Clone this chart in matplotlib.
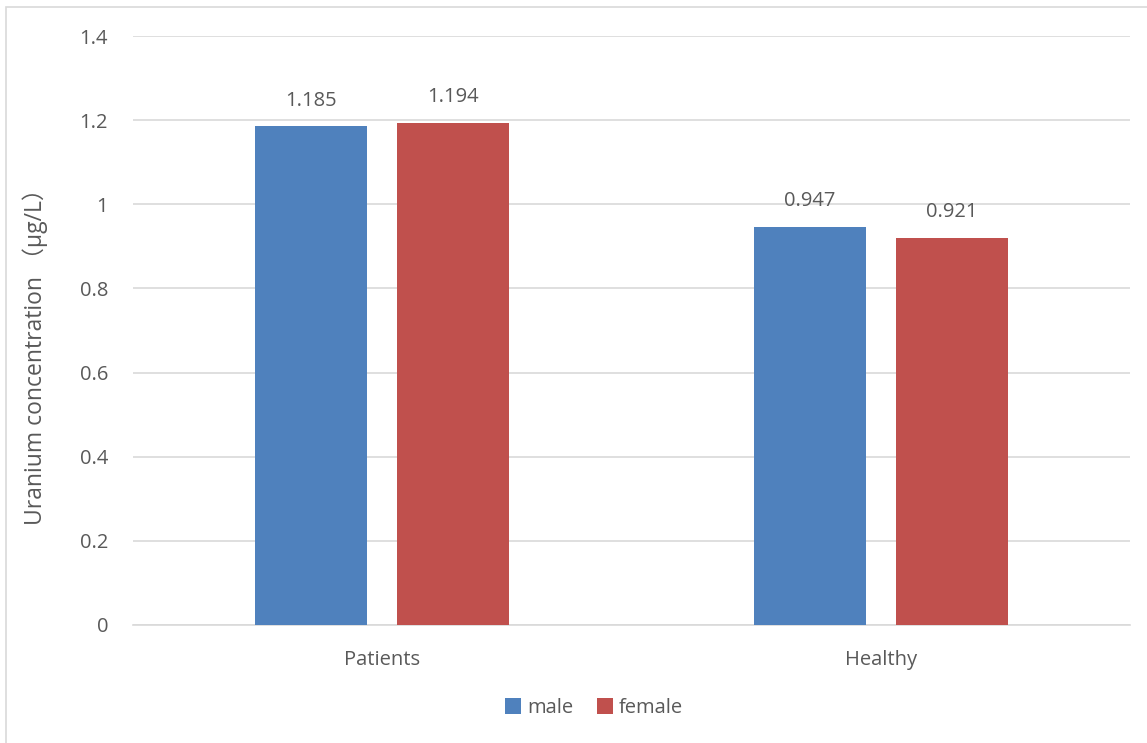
import matplotlib
matplotlib.use("Agg")
import matplotlib.pyplot as plt
from matplotlib.patches import Rectangle
import numpy as np

categories = ["Patients", "Healthy"]
series_names = ["male", "female"]
male = [1.185, 0.947]
female = [1.194, 0.921]
label_text_male = ["1.185", "0.947"]
label_text_female = ["1.194", "0.921"]
yticks = [0, 0.2, 0.4, 0.6, 0.8, 1, 1.2, 1.4]
ytick_labels = ["0", "0.2", "0.4", "0.6", "0.8", "1", "1.2", "1.4"]

plt.rcParams['font.family'] = ['Open Sans', 'Noto Sans CJK SC', 'DejaVu Sans']
TXT = '#595959'
FS = 14.5

fig = plt.figure(figsize=(11.47, 7.43), dpi=100)
W, H = 1147, 743
ax = fig.add_axes([133 / W, 1 - 625 / H, (1130 - 133) / W, (625 - 36) / H])

# figure border (chart area)
fig.patches.append(Rectangle((6 / W, -0.1), 1.2, 1 - 7 / H + 0.1, transform=fig.transFigure,
                             fill=False, edgecolor='#D9D9D9', linewidth=1.2))

x = np.arange(len(categories))
bw = 0.225
off = 0.1425
b1 = ax.bar(x - off, male, bw, color='#4F81BD', label=series_names[0], zorder=3)
b2 = ax.bar(x + off, female, bw, color='#C0504D', label=series_names[1], zorder=3)

for rect, t in zip(b1, label_text_male):
    ax.annotate(t, (rect.get_x() + rect.get_width() / 2, rect.get_height()),
                xytext=(0, 11), textcoords='offset points', ha='center', va='bottom',
                fontsize=FS, color=TXT)
for rect, t in zip(b2, label_text_female):
    ax.annotate(t, (rect.get_x() + rect.get_width() / 2, rect.get_height()),
                xytext=(0, 11), textcoords='offset points', ha='center', va='bottom',
                fontsize=FS, color=TXT)

ax.set_xlim(-0.5, 1.5)
ax.set_ylim(0, 1.4)
ax.set_yticks(yticks)
ax.set_yticklabels(ytick_labels)
ax.set_xticks(x)
ax.set_xticklabels(categories)
ax.tick_params(axis='both', length=0, labelsize=FS, colors=TXT)
ax.tick_params(axis='y', pad=18)
ax.tick_params(axis='x', pad=18)
ax.yaxis.grid(True, color='#D9D9D9', linewidth=1.2, zorder=0)
ax.set_axisbelow(True)
for s in ['top', 'right', 'left']:
    ax.spines[s].set_visible(False)
ax.spines['bottom'].set_color('#D9D9D9')
ax.spines['bottom'].set_linewidth(1.2)

fig.text(35 / W, 1 - 351 / H, "Uranium concentration \uff08\u03bcg/L\uff09", rotation=90,
         ha='center', va='center', fontsize=16.5, color=TXT)

leg = fig.legend(loc='center', bbox_to_anchor=(594 / W, 1 - 708 / H), ncol=2, frameon=False,
                 fontsize=FS, handlelength=0.8, handleheight=0.8, handletextpad=0.3,
                 columnspacing=1.2, labelcolor=TXT)

fig.savefig("out.png", dpi=100)
